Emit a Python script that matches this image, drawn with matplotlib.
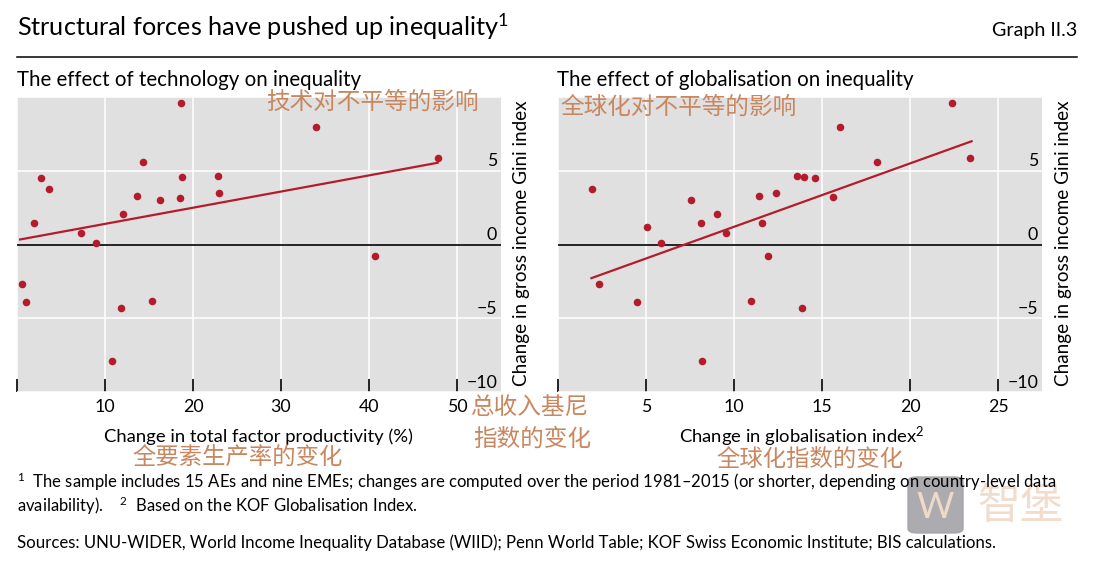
import numpy as np
import matplotlib
matplotlib.use("Agg")
import matplotlib.pyplot as plt
from matplotlib.patches import FancyBboxPatch
from matplotlib.transforms import blended_transform_factory

plt.rcParams["font.family"] = ["Lato", "DejaVu Sans"]
plt.rcParams["mathtext.fontset"] = "custom"
plt.rcParams["mathtext.rm"] = "Lato"
plt.rcParams["mathtext.it"] = "Lato:italic"
plt.rcParams["mathtext.bf"] = "Lato:bold"

W, H = 1094, 563
RED = "#B51C2B"
BG = "#E0E0E0"
CN = "#C8875F"
CNFONT = ["Noto Sans CJK SC", "DejaVu Sans"]

# left panel: change in TFP (%) vs change in gross income Gini
tfp_x = [18.6, 14.3, 2.69, 3.64, 18.7, 22.8, 13.6, 16.2, 18.5, 22.9, 1.93,
         12.0, 7.3, 8.98, 0.6, 0.98, 11.8, 15.3, 10.8, 34.0, 47.8, 40.7]
tfp_y = [9.57, 5.59, 4.48, 3.78, 4.59, 4.66, 3.29, 3.0, 3.18, 3.49, 1.49,
         2.09, 0.79, 0.09, -2.7, -3.9, -4.3, -3.8, -7.9, 7.97, 5.86, -0.81]
tfp_fit_x = [0.35, 47.8]
tfp_fit_y = [0.34, 5.54]

# right panel: change in globalisation index vs change in Gini
glob_x = [1.91, 2.33, 4.51, 5.06, 5.83, 7.58, 8.13, 8.2, 9.05, 9.55, 10.98,
          11.4, 11.6, 11.93, 12.4, 13.6, 13.96, 13.86, 14.6, 16.0, 15.6,
          18.1, 22.4, 23.4]
glob_y = [3.78, -2.7, -3.9, 1.2, 0.09, 3.0, 1.49, -7.9, 2.07, 0.81, -3.8,
          3.29, 1.49, -0.81, 3.49, 4.66, 4.59, -4.3, 4.48, 7.97, 3.2,
          5.59, 9.57, 5.86]
glob_fit_x = [1.9, 23.5]
glob_fit_y = [-2.28, 7.0]

y_ticks = [-10, -5, 0, 5]
tfp_ticks = [0, 10, 20, 30, 40, 50]
glob_ticks = [0, 5, 10, 15, 20, 25]


def px(x, y):
    return x / W, 1 - y / H


def ftext(x, y, s, **kw):
    fig.text(*px(x, y), s, **kw)


fig = plt.figure(figsize=(W / 100, H / 100), dpi=100)


def panel(left_px, xs, ys, fx, fy, ticks, xmax):
    l, b = px(left_px, 392)
    ax = fig.add_axes([l, b, 484 / W, 295 / H])
    ax.set_facecolor(BG)
    for s in ax.spines.values():
        s.set_visible(False)
    ax.set_xlim(0, xmax)
    ax.set_ylim(-10, 10)
    ax.set_xticks(ticks)
    ax.set_xticklabels([""] + [str(t) for t in ticks[1:]])
    ax.set_yticks(y_ticks + [10])
    ax.tick_params(axis="x", direction="in", length=9.5, width=1.2,
                   color="black", labelsize=12.8, pad=5)
    ax.tick_params(axis="y", length=0, labelleft=False)
    ax.grid(color="white", lw=1.1)
    ax.set_axisbelow(True)
    ax.axhline(0, color="black", lw=1.2, zorder=2)
    tr = blended_transform_factory(ax.transAxes, ax.transData)
    for v in y_ticks:
        lab = str(v).replace("-", "\u2212")
        ax.text(0.992, v + 0.3, lab, transform=tr, ha="right",
                va="baseline", fontsize=12.8)
    ax.plot(fx, fy, color=RED, lw=1.6, zorder=3)
    ax.scatter(xs, ys, s=30, color=RED, zorder=4, linewidths=0)
    return ax


ax1 = panel(17, tfp_x, tfp_y, tfp_fit_x, tfp_fit_y, tfp_ticks, 55)
ax2 = panel(558, glob_x, glob_y, glob_fit_x, glob_fit_y, glob_ticks, 27.5)

# header
ftext(17, 36, r"Structural forces have pushed up inequality$^{1}$",
      fontsize=18.2, va="baseline")
ftext(1077, 36, "Graph II.3", fontsize=14.2, ha="right", va="baseline")
fig.add_artist(plt.Line2D([17 / W, 1077 / W], [1 - 56.5 / H] * 2,
                          color="black", lw=1.1))

ftext(17, 86, "The effect of technology on inequality", fontsize=14.8,
      va="baseline")
ftext(557, 86, "The effect of globalisation on inequality", fontsize=14.8,
      va="baseline")

ylab = "Change in gross income Gini index"
ftext(522, 243, ylab, rotation=90, ha="center", va="center", fontsize=13.6)
ftext(1063, 243, ylab, rotation=90, ha="center", va="center", fontsize=13.6)

ftext(259, 437, "Change in total factor productivity (%)", ha="center",
      va="center", fontsize=13.3)
ftext(802, 437, r"Change in globalisation index$^{2}$", ha="center",
      va="center", fontsize=13.3)

# Chinese annotations
ftext(372, 102, "技术对不平等的影响", family=CNFONT, color=CN, fontsize=17,
      ha="center", va="center")
ftext(679, 107, "全球化对不平等的影响", family=CNFONT, color=CN, fontsize=17,
      ha="center", va="center")
ftext(530, 408, "总收入基尼", family=CNFONT, color=CN, fontsize=17,
      ha="center", va="center")
ftext(532, 439, "指数的变化", family=CNFONT, color=CN, fontsize=17,
      ha="center", va="center")
ftext(238, 458, "全要素生产率的变化", family=CNFONT, color=CN, fontsize=16.8,
      ha="center", va="center")
ftext(810, 459, "全球化指数的变化", family=CNFONT, color=CN, fontsize=16.8,
      ha="center", va="center")

# watermark
fig.add_artist(FancyBboxPatch(px(908, 533), 55 / W, 56 / H,
                              boxstyle="round,pad=0,rounding_size=0.008",
                              transform=fig.transFigure, color="#a3a3a8",
                              alpha=0.9, zorder=0))
ftext(935, 507, "W", color="#efd9c9", fontsize=26, ha="center",
      va="center", zorder=1)
ftext(1020, 507, "智堡", family=CNFONT, color="#f2dccd", fontsize=31,
      ha="center", va="center", zorder=0)

# footnotes
ftext(17, 488, r"$^{1}$  The sample includes 15 AEs and nine EMEs; changes are "
      "computed over the period 1981\u20132015 (or shorter, depending on "
      "country-level data", fontsize=12.0, va="baseline")
ftext(17, 512, r"availability).    $^{2}$  Based on the KOF Globalisation Index.",
      fontsize=12.0, va="baseline")
ftext(17, 548, "Sources: UNU-WIDER, World Income Inequality Database (WIID); "
      "Penn World Table; KOF Swiss Economic Institute; BIS calculations.",
      fontsize=12.1, va="baseline")

fig.savefig("out.png", dpi=100)
